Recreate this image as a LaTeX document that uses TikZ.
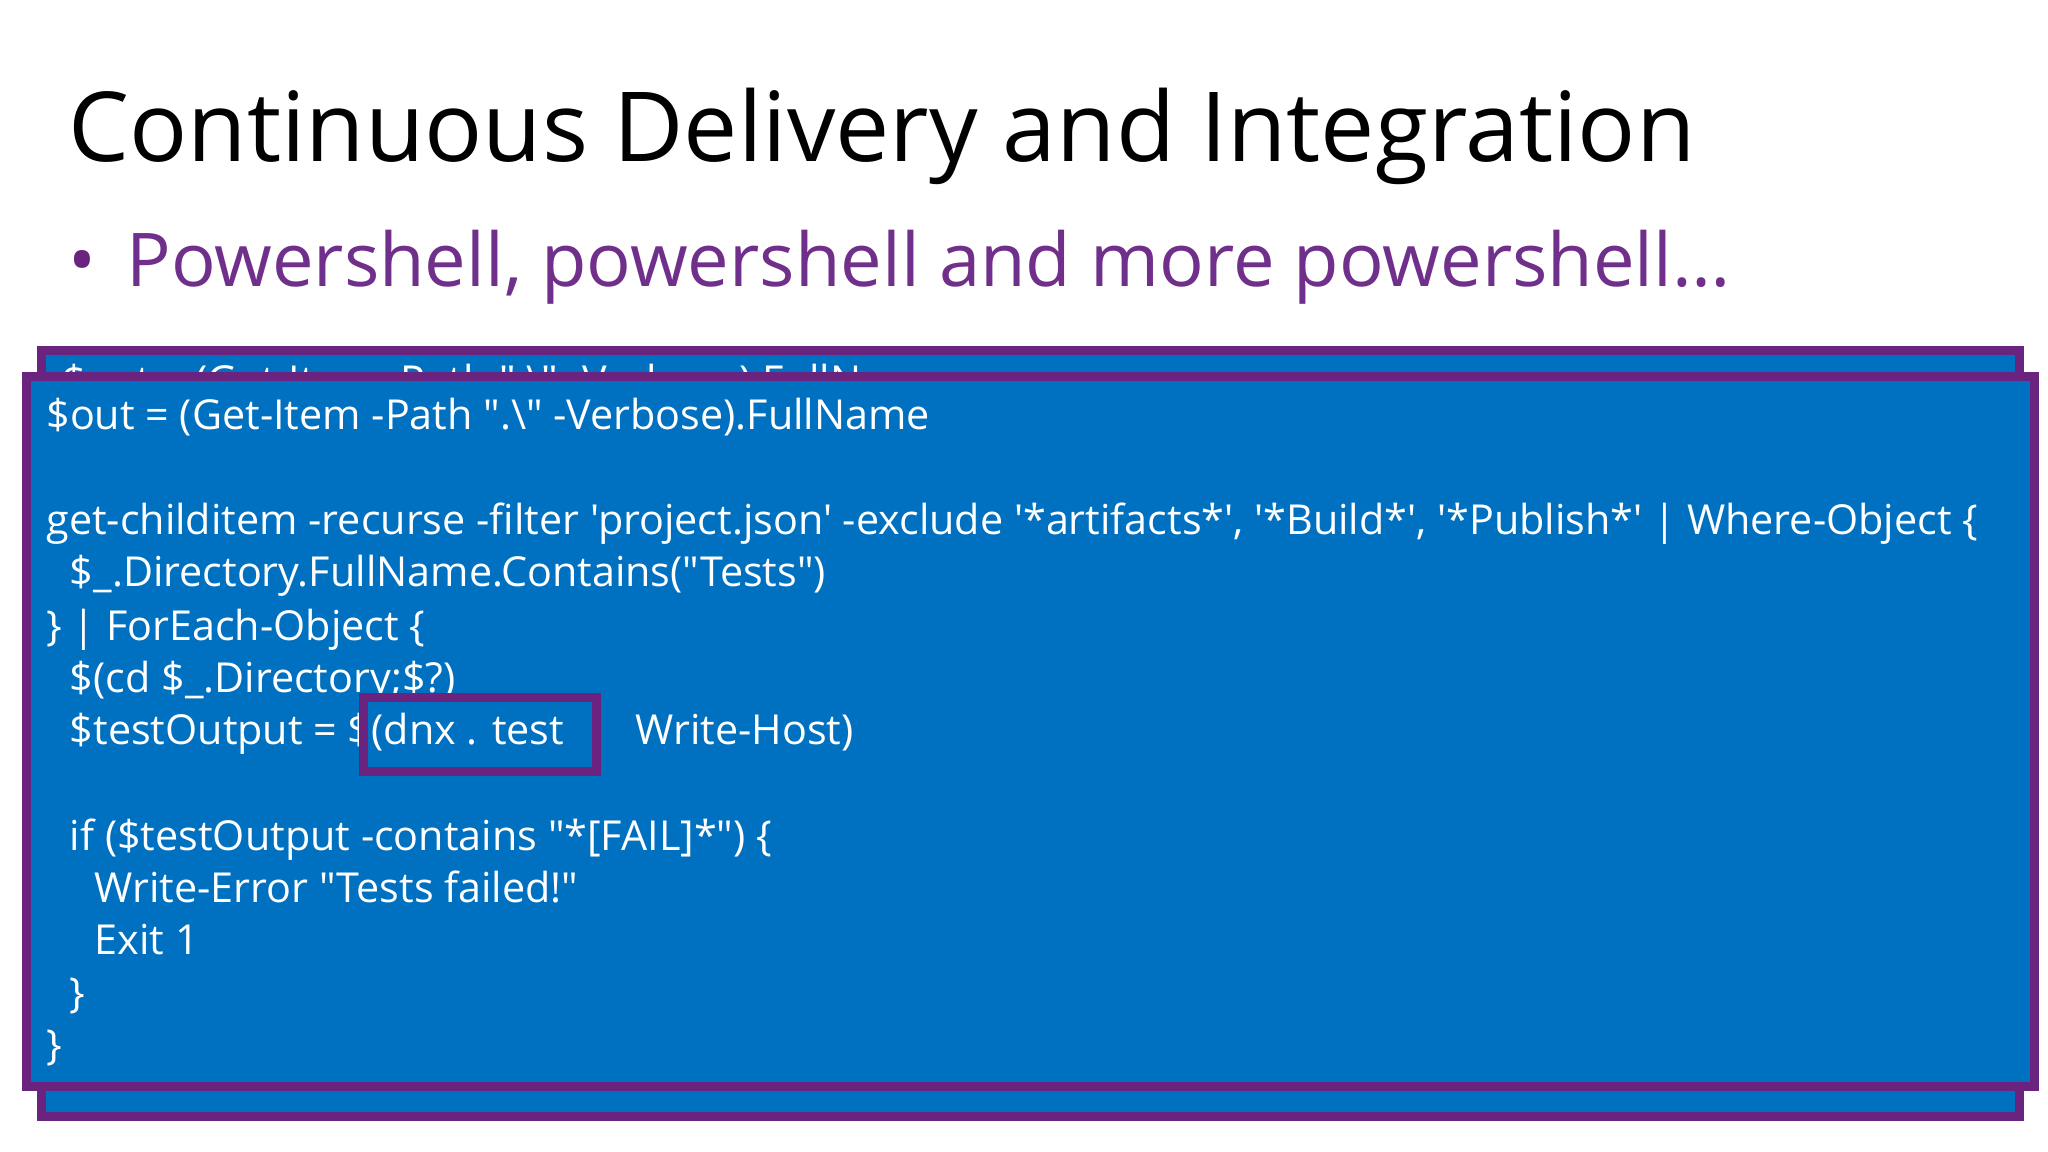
\documentclass[tikz,border=0pt]{standalone}
\usepackage{fontspec}
\setmainfont{Open Sans}
\newfontfamily\codefont{Open Sans}
\newfontfamily\titlefont{Open Sans}
\definecolor{boxblue}{HTML}{0070C0}
\definecolor{boxpurple}{HTML}{6A2480}
\definecolor{bulletpurple}{HTML}{702F8A}
\begin{document}
\begin{tikzpicture}[x=0.01306cm,y=-0.01306cm,
  codeline/.style={anchor=base west,inner sep=0,text=white,font=\codefont\fontsize{11.75}{14}\selectfont},
  codebox/.style={draw=boxpurple,line width=0.09cm,fill=boxblue}]
\useasboundingbox (0,0) rectangle (1568,882);
\fill[white] (0,0) rectangle (1568,882);
\node[anchor=base west,inner sep=0,font=\titlefont\fontsize{27.5}{32}\selectfont] (title) at (52,124) {Continuous Delivery and Integration};
\node[anchor=base west,inner sep=0,text=bulletpurple,font=\fontsize{21.1}{25}\selectfont] (bullet) at (52,219) {\textcolor{boxpurple}{•}\hspace{0.3cm}Powershell, powershell and more powershell…};
\draw[codebox] (32,268) rectangle (1546,855);
\begin{scope}
\clip (36,272) rectangle (1542,288);
\node[codeline] (ghost) at (47,303) {\$out = (Get-Item -Path ".\textbackslash" -Verbose).FullName};
\end{scope}
\draw[codebox] (20,288) rectangle (1558,832);
\node[codeline] (l1) at (35,329) {\$out = (Get-Item -Path ".\textbackslash" -Verbose).FullName};
\node[codeline] (l3) at (35,409) {get-childitem -recurse -filter 'project.json' -exclude '*artifacts*', '*Build*', '*Publish*' | Where-Object \{};
\node[codeline] (l4) at (53,449) {\$\_.Directory.FullName.Contains("Tests")};
\node[codeline] (l5) at (35,490) {\} | ForEach-Object \{};
\node[codeline] (l6) at (53,530) {\$(cd \$\_.Directory;\$?)};
\node[codeline] (l7) at (53,570) {\$testOutput = \$(dnx . test \hspace{0.12cm}|\hspace{0.15cm} Write-Host)};
\node[codeline] (l9) at (53,651) {if (\$testOutput -contains "*[FAIL]*") \{};
\node[codeline] (l10) at (72,691) {Write-Error "Tests failed!"};
\node[codeline] (l11) at (72,731) {Exit 1};
\node[codeline] (l12) at (53,771) {\}};
\node[codeline] (l13) at (35,811) {\}};
\draw[draw=boxpurple,line width=0.09cm] (278,534) rectangle (457,591);
\end{tikzpicture}
\end{document}
